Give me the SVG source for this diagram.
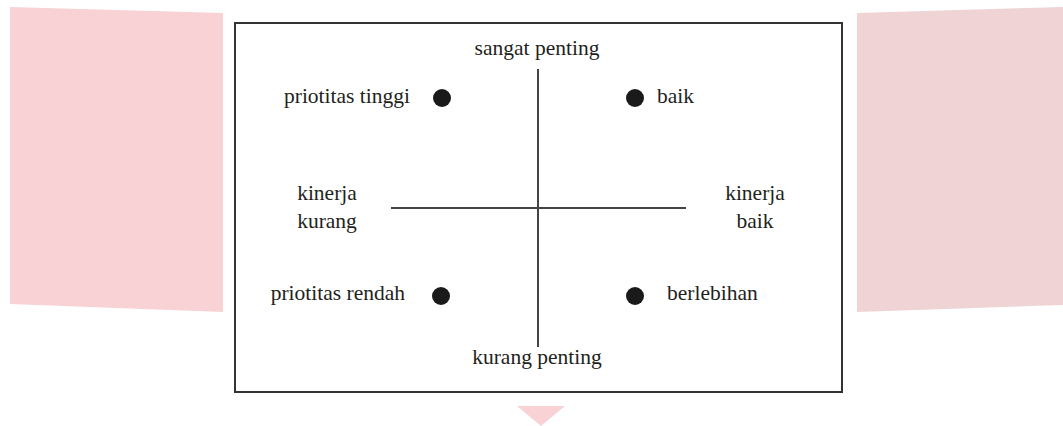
<svg xmlns="http://www.w3.org/2000/svg" width="1063" height="426" viewBox="0 0 1063 426">
<style>
.t{font-family:"Liberation Serif","Times New Roman",serif;font-size:21.5px;fill:#231f20}
.ax{stroke:#444;stroke-width:2;fill:none}
.dot{fill:#1a1a1a}
</style>
<rect width="1063" height="426" fill="#fff"/>
<g id="background">
<polygon points="10,7 223,13 223,312 10,304" fill="#f8d2d4"/>
<polygon points="857,13 1063,7 1063,305 857,312" fill="#efd3d5"/>
<polygon points="517,406 565,406 541,426" fill="#f8d2d4"/>
</g>
<g id="frame"><rect x="235" y="23" width="607" height="369" fill="#fff" stroke="#333" stroke-width="2"/></g>
<g id="connectors">
<line class="ax" x1="538" y1="69" x2="538" y2="347"/>
<line class="ax" x1="391" y1="208" x2="686" y2="208"/>
</g>
<g id="n-top"><text class="t" x="537" y="55" text-anchor="middle">sangat penting</text></g>
<g id="n-bottom"><text class="t" x="537" y="364" text-anchor="middle">kurang penting</text></g>
<g id="n-left"><text class="t" x="327" y="200" text-anchor="middle">kinerja</text><text class="t" x="327" y="228" text-anchor="middle">kurang</text></g>
<g id="n-right"><text class="t" x="755" y="200" text-anchor="middle">kinerja</text><text class="t" x="755" y="228" text-anchor="middle">baik</text></g>
<g id="q-tl"><circle class="dot" cx="442" cy="98" r="9"/><text class="t" x="410" y="103" text-anchor="end">priotitas tinggi</text></g>
<g id="q-tr"><circle class="dot" cx="635" cy="98" r="9"/><text class="t" x="657" y="103">baik</text></g>
<g id="q-bl"><circle class="dot" cx="441" cy="296" r="9"/><text class="t" x="405" y="300" text-anchor="end">priotitas rendah</text></g>
<g id="q-br"><circle class="dot" cx="635" cy="296" r="9"/><text class="t" x="667" y="300">berlebihan</text></g>
</svg>
